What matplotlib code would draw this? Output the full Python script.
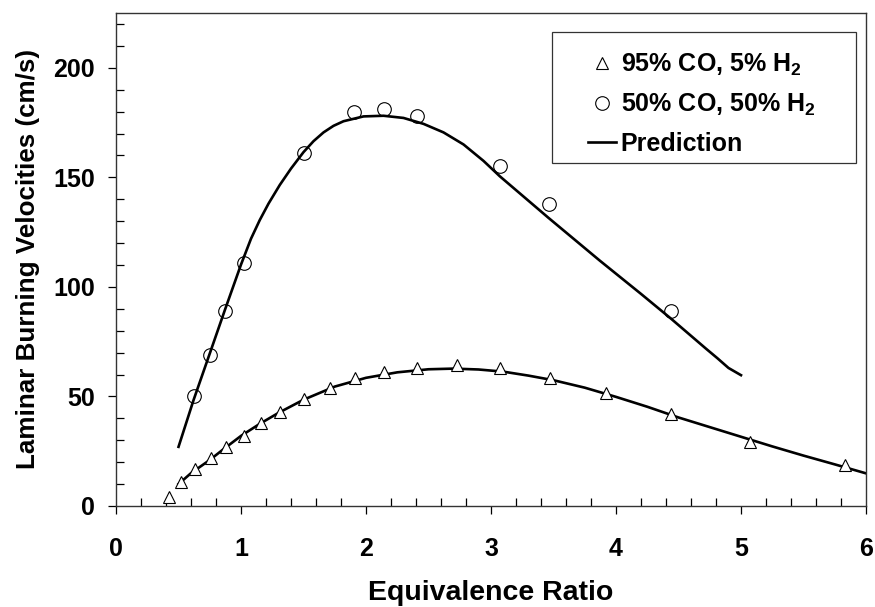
import matplotlib
matplotlib.use("Agg")
import matplotlib.pyplot as plt
from matplotlib.patches import Rectangle
from matplotlib.ticker import MultipleLocator

plt.rcParams["font.family"] = ["Liberation Sans", "DejaVu Sans"]
plt.rcParams["font.weight"] = "bold"
plt.rcParams["mathtext.fontset"] = "custom"
plt.rcParams["mathtext.rm"] = "Liberation Sans:bold"
plt.rcParams["mathtext.bf"] = "Liberation Sans:bold"

# measured points, 95% CO / 5% H2
phi_co95 = [0.42, 0.52, 0.63, 0.76, 0.88, 1.02, 1.16, 1.31, 1.50, 1.71,
            1.91, 2.14, 2.41, 2.73, 3.07, 3.47, 3.92, 4.44, 5.07, 5.83]
su_co95 = [4, 11, 17, 22, 27, 32, 38, 43, 49, 54,
           58.6, 61, 63.2, 64.5, 63.2, 58.5, 51.6, 42.2, 29.2, 18.7]

# measured points, 50% CO / 50% H2
phi_co50 = [0.62, 0.75, 0.87, 1.02, 1.50, 1.90, 2.14, 2.41, 3.07, 3.46, 4.44]
su_co50 = [50, 69, 89, 111, 161, 180, 181, 178, 155, 138, 89]

# prediction curves
pred_phi_co95 = [0.50, 0.60, 0.75, 0.85, 1.00, 1.15, 1.30, 1.50, 1.75, 2.00,
                 2.25, 2.50, 2.70, 2.90, 3.10, 3.30, 3.50, 3.75, 4.00, 4.25,
                 4.50, 4.75, 5.00, 5.25, 5.50, 5.75, 6.00]
pred_su_co95 = [10, 15, 21, 25.5, 32, 37.5, 42.5, 48.5, 54.5, 58.5,
                61, 62.4, 62.7, 62.3, 61.3, 59.5, 57.4, 54, 49.8, 45.3,
                40.4, 36, 31.6, 27.2, 23, 19, 14.9]

pred_phi_co50 = [0.50, 0.62, 0.75, 0.87, 1.00, 1.08, 1.15, 1.22, 1.31, 1.40,
                 1.50, 1.58, 1.66, 1.74, 1.82, 1.98, 2.14, 2.30, 2.46, 2.62,
                 2.78, 2.94, 3.07, 3.46, 3.87, 4.20, 4.44, 4.72, 4.81, 4.90,
                 5.00]
pred_su_co50 = [27, 48.3, 69.6, 89.3, 110.2, 122, 130.5, 138, 146.5, 154,
                161.5, 166.5, 170.5, 173.5, 175.6, 177.8, 178.1, 177.1, 174.4, 170.5,
                165, 157.5, 150.5, 131.5, 112, 96.8, 85.5, 71.8, 67.5, 63,
                59.7]

fig = plt.figure(figsize=(8.75, 6.07), dpi=100)
ax = fig.add_axes([0.1326, 0.1664, 0.8571, 0.8122])

ax.plot(phi_co95, su_co95, linestyle="none", marker="^", markersize=8,
        markerfacecolor="white", markeredgecolor="black", markeredgewidth=0.8,
        label="95% CO, 5% H$_\\mathbf{2}$", zorder=3)
ax.plot(phi_co50, su_co50, linestyle="none", marker="o", markersize=9.8,
        markerfacecolor="none", markeredgecolor="black", markeredgewidth=0.8,
        label="50% CO, 50% H$_\\mathbf{2}$", zorder=3)
ax.plot(pred_phi_co95, pred_su_co95, color="black", linewidth=1.9,
        label="Prediction", zorder=2)
ax.plot(pred_phi_co50, pred_su_co50, color="black", linewidth=1.9, zorder=2)

ax.set_xlim(0, 6)
ax.set_ylim(0, 225)
ax.xaxis.set_major_locator(MultipleLocator(1))
ax.xaxis.set_minor_locator(MultipleLocator(0.2))
ax.yaxis.set_major_locator(MultipleLocator(50))
ax.yaxis.set_minor_locator(MultipleLocator(10))
ax.tick_params(which="major", direction="out", length=6, width=0.9,
               labelsize=18)
ax.tick_params(axis="x", which="major", pad=16)
ax.tick_params(axis="y", which="major", pad=9)
ax.tick_params(which="minor", direction="in", length=5.5, width=0.9)
for lab in ax.get_xticklabels() + ax.get_yticklabels():
    lab.set_fontweight("bold")
for s in ax.spines.values():
    s.set_linewidth(1.0)
    s.set_color("#333333")

ax.set_xlabel("Equivalence Ratio", fontsize=20.5, fontweight="bold", labelpad=14)
ax.set_ylabel("Laminar Burning Velocities (cm/s)", fontsize=18.7,
              fontweight="bold", labelpad=10)

# legend frame is wider than the default padding allows, so draw it separately
box = Rectangle((0.5813, 0.6957), 0.4054, 0.2658, transform=ax.transAxes,
                facecolor="white", edgecolor="#333333", linewidth=0.9, zorder=4)
ax.add_patch(box)
leg = ax.legend(loc="center", bbox_to_anchor=(0.781, 0.816), frameon=False,
                prop={"size": 18, "weight": "bold"}, handlelength=1.1,
                handletextpad=0.2, labelspacing=0.55, borderpad=0.2)
leg.set_zorder(5)

fig.savefig("out.png", dpi=100)
